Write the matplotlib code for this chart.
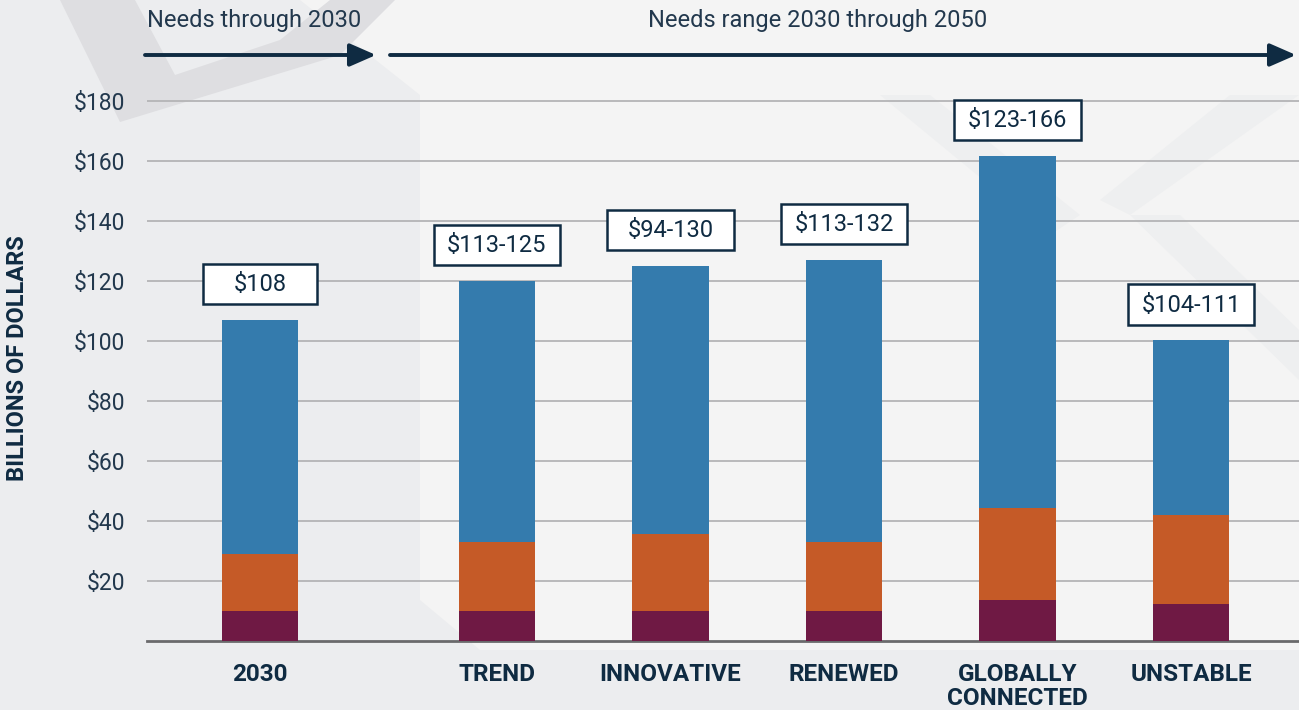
import matplotlib
matplotlib.use('Agg')
import matplotlib.pyplot as plt
from matplotlib.patches import Polygon, FancyArrowPatch, Rectangle

# data (billions of dollars)
categories = ['2030', 'TREND', 'INNOVATIVE', 'RENEWED', 'GLOBALLY\nCONNECTED', 'UNSTABLE']
bottom_part = [10, 10, 10, 10, 13.7, 12.3]
middle_part = [19, 23, 25.8, 23, 30.6, 29.7]
top_part = [78, 87, 89.2, 94, 117.4, 58.3]
range_labels = ['$108', '$113-125', '$94-130', '$113-132', '$123-166', '$104-111']
yticks = [20, 40, 60, 80, 100, 120, 140, 160, 180]

x = [0, 1.366, 2.366, 3.366, 4.366, 5.366]

navy = '#0f2b42'
txt = '#22384d'
c_bottom = '#6f1944'
c_mid = '#c55a27'
c_top = '#347bad'

plt.rcParams['font.family'] = ['Roboto', 'DejaVu Sans']

W, H = 1299, 710
fig = plt.figure(figsize=(W / 100, H / 100), dpi=100)
fig.patch.set_facecolor('#ecedef')

def px(pts):
    return [(a / W, 1 - b / H) for a, b in pts]

# faint background shapes
shapes = [
    ([(300, 0), (1299, 0), (1299, 95), (420, 95)], '#f4f4f4'),
    ([(420, 95), (1299, 95), (1299, 650), (480, 650), (420, 600)], '#f4f4f4'),
    ([(60, 0), (135, 0), (175, 75), (280, 40), (330, 0), (395, 0),
      (340, 55), (120, 122)], '#dedee1'),
    ([(880, 95), (930, 95), (1080, 215), (1050, 235)], '#eeeff0'),
    ([(1230, 95), (1299, 95), (1130, 215), (1100, 200)], '#eeeff0'),
    ([(1130, 215), (1180, 215), (1299, 330), (1299, 380)], '#eeeff0'),
]
for pts, col in shapes:
    fig.patches.append(Polygon(px(pts), closed=True, transform=fig.transFigure,
                               facecolor=col, edgecolor='none', zorder=-5))

ax = fig.add_axes([147 / W, 1 - 641 / H, 1 - 147 / W, (641 - 96) / H])
ax.set_facecolor('none')

w = 0.44
b2 = [a + b for a, b in zip(bottom_part, middle_part)]
tot = [a + b for a, b in zip(b2, top_part)]
ax.bar(x, bottom_part, width=w, color=c_bottom, zorder=3)
ax.bar(x, middle_part, width=w, bottom=bottom_part, color=c_mid, zorder=3)
ax.bar(x, top_part, width=w, bottom=b2, color=c_top, zorder=3)

# label boxes above each bar
for xi, t, lab in zip(x, tot, range_labels):
    bw = 0.727 if '-' in lab else 0.66
    bh = 13.6
    yc = t + 12
    ax.add_patch(Rectangle((xi - bw / 2, yc - bh / 2), bw, bh, fc='white',
                           ec=navy, lw=1.8, zorder=5))
    ax.text(xi, yc - 0.3, lab, ha='center', va='center', fontsize=17,
            color=navy, zorder=6)

ax.set_xlim(-0.651, 5.988)
ax.set_ylim(0, 181.7)
ax.set_yticks(yticks)
ax.set_yticklabels(['$%d' % v for v in yticks], fontsize=16.5, color=txt)
ax.yaxis.grid(True, color='#b4b4b6', lw=1.3, zorder=0)
ax.set_xticks(x)
ax.set_xticklabels(categories, fontsize=17.5, fontweight='bold', color=navy,
                   linespacing=1.05, va='top')
ax.tick_params(axis='both', length=0)
ax.tick_params(axis='x', pad=16)
ax.tick_params(axis='y', pad=16)
for s in ['top', 'right', 'left']:
    ax.spines[s].set_visible(False)
ax.spines['bottom'].set_color('#6a6a6c')
ax.spines['bottom'].set_linewidth(2)
ax.set_axisbelow(True)

fig.text(18 / W, 1 - 358 / H, 'BILLIONS OF DOLLARS', rotation=90, ha='center',
         va='center', fontsize=17, fontweight='bold', color=navy)

# period arrows
fig.text(147 / W, 1 - 21 / H, 'Needs through 2030', ha='left', va='center',
         fontsize=17, color=txt)
fig.text(818 / W, 1 - 21 / H, 'Needs range 2030 through 2050', ha='center',
         va='center', fontsize=17, color=txt)
for x0, x1 in [(145, 376), (390, 1296)]:
    fig.add_artist(FancyArrowPatch(
        (x0 / W, 1 - 55 / H), (x1 / W, 1 - 55 / H), transform=fig.transFigure,
        arrowstyle='-|>,head_length=16,head_width=7', mutation_scale=1,
        color=navy, lw=2.8, shrinkA=0, shrinkB=0))

fig.savefig('out.png', dpi=100, facecolor=fig.get_facecolor())
